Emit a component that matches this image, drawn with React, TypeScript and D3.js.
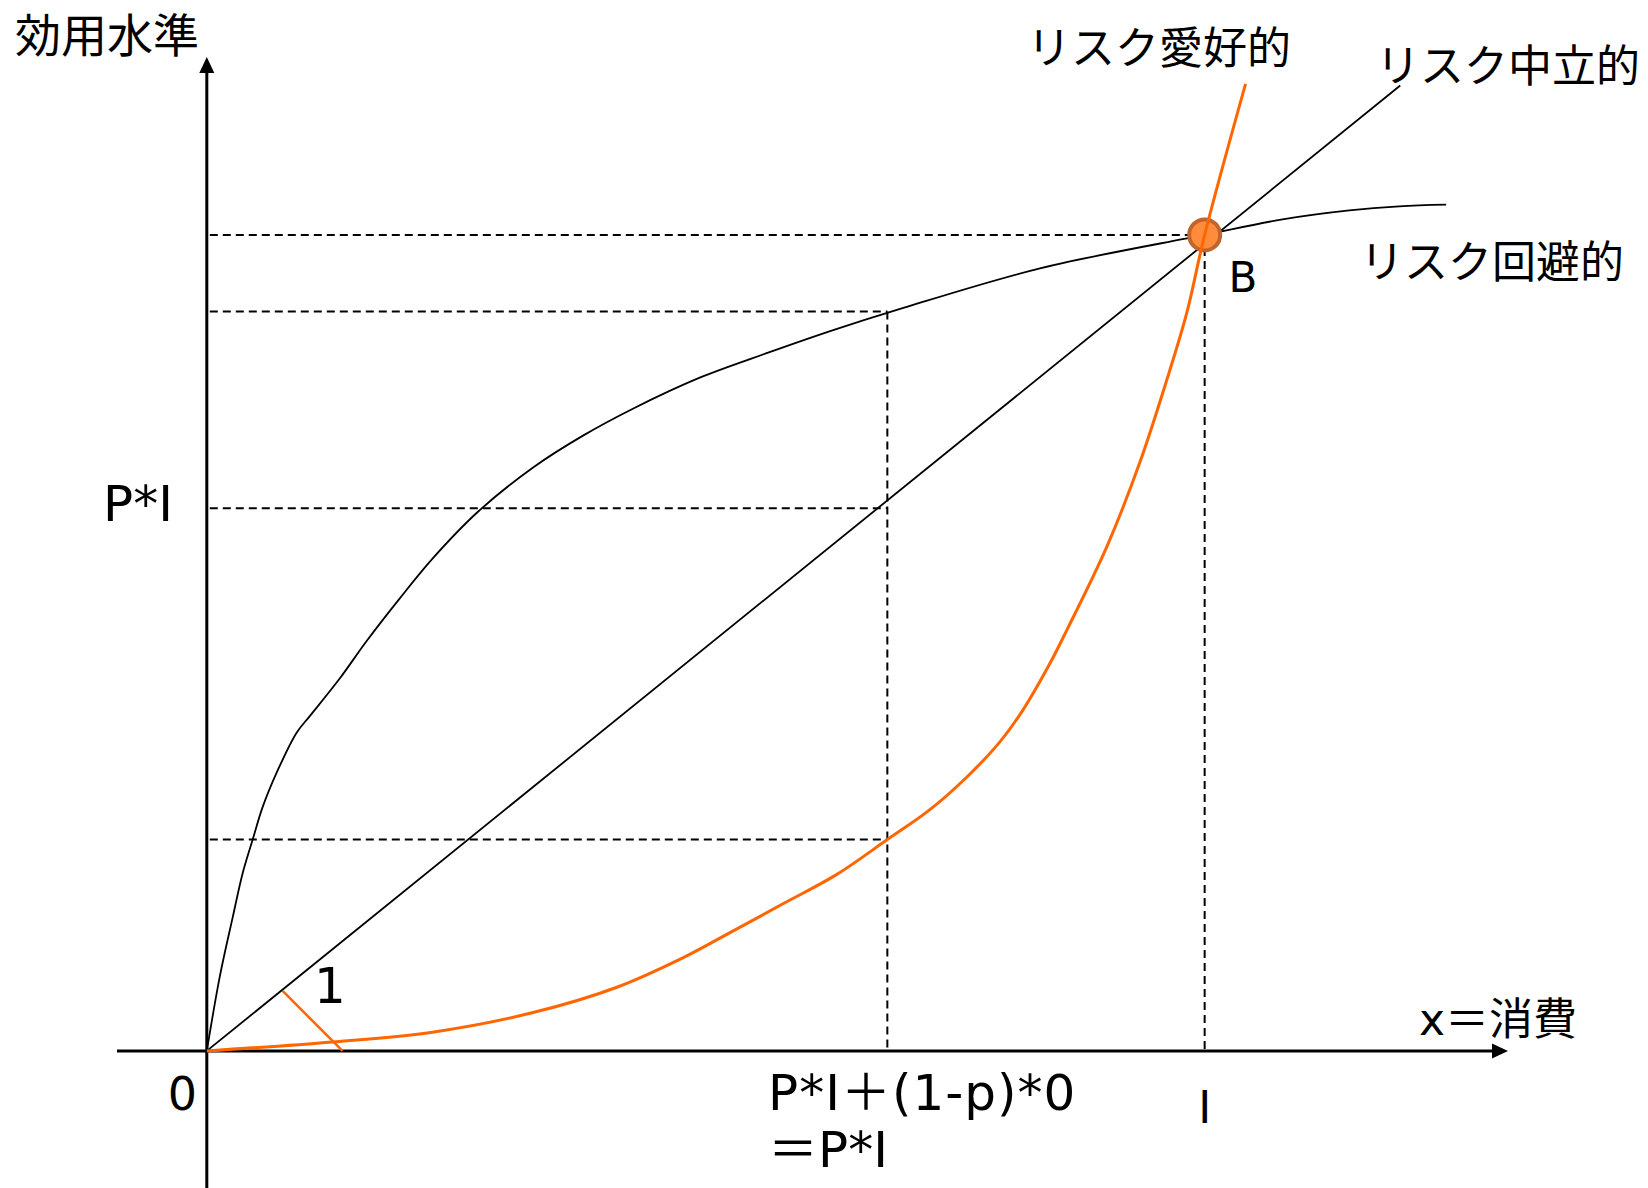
import * as d3 from 'd3';
import { useEffect, useRef } from 'react';

// utility curves in data units (x: 0..I=100, y: 0..U(B)=100)
const averseCurve: [number, number][] = [
	[0, 0], [1.3, 9.1], [2.6, 16.4], [3.6, 21.8], [4.6, 25.9], [5.6, 29.9], [7.0, 34.1],
	[9.0, 39.0], [10.3, 41.0], [13.3, 45.6], [16.0, 50.2], [19.3, 55.4], [22.6, 60.3],
	[27.2, 66.1], [32.7, 71.5], [37.7, 75.4], [42.7, 78.7], [49.4, 82.5], [56.1, 85.5],
	[62.7, 88.3], [69.4, 90.9], [83.5, 95.9], [100, 100], [107.8, 101.9], [114.5, 103.0],
	[119.5, 103.5], [124.2, 103.7],
];
const lovingCurve: [number, number][] = [
	[0, 0], [12.6, 1.1], [22.6, 2.3], [32.7, 4.7], [41.1, 7.8], [47.7, 11.4], [51.7, 14.0],
	[57.7, 18.0], [63.1, 21.6], [68.2, 25.9], [72.4, 29.5], [76.2, 33.6], [79.5, 37.9],
	[81.8, 41.8], [84.5, 47.5], [86.2, 51.6], [90.2, 61.8], [93.5, 72.1], [96.2, 82.2],
	[98.2, 90.4], [100, 100], [104.1, 118.5],
];
const neutralLine: [number, number][] = [[0, 0], [119.6, 118.3]];
const slopeMark: [number, number][] = [[7.6, 7.35], [13.6, 0]];

// guide lines
const expectedX = 68.2; // P*I
const incomeX = 100; // I
const guideLevels = [100, 90.6, 66.5, 25.9];
const guideEnds = [incomeX, expectedX, expectedX, expectedX];
const pointB: [number, number] = [100, 100];

const W = 1648;
const H = 1188;
const ORANGE = '#ff6600';
const JP = '"Noto Sans CJK JP", sans-serif';
const LAT = '"DejaVu Sans", "Noto Sans CJK JP", sans-serif';

const App = () => {
	const svgRef = useRef<SVGSVGElement>(null);

	useEffect(() => {
		document.body.style.margin = '0';
		const x = d3.scaleLinear().domain([-9, 130.4]).range([117, 1508]);
		const y = d3.scaleLinear().domain([-16.8, 121.8]).range([H, 57]);

		const svg = d3.select(svgRef.current);
		svg.selectAll('*').remove();

		const line = d3.line<[number, number]>().x((d) => x(d[0])).y((d) => y(d[1]));
		const smooth = d3.line<[number, number]>().curve(d3.curveCatmullRom.alpha(0.5)).x((d) => x(d[0])).y((d) => y(d[1]));

		// dashed guides
		const guides = svg.append('g').attr('stroke', '#000').attr('stroke-width', 2).attr('stroke-dasharray', '8,5').attr('fill', 'none');
		guideLevels.forEach((lv, i) => {
			guides.append('line').attr('x1', x(0.3)).attr('x2', x(guideEnds[i])).attr('y1', y(lv)).attr('y2', y(lv));
		});
		guides.append('line').attr('x1', x(expectedX)).attr('x2', x(expectedX)).attr('y1', y(guideLevels[1])).attr('y2', y(0));
		guides.append('line').attr('x1', x(incomeX)).attr('x2', x(incomeX)).attr('y1', y(guideLevels[0])).attr('y2', y(0));

		// axes with arrowheads
		svg.append('line').attr('x1', x(-9)).attr('x2', x(130.4) - 10).attr('y1', y(0)).attr('y2', y(0)).attr('stroke', '#000').attr('stroke-width', 3);
		svg.append('line').attr('x1', x(0)).attr('x2', x(0)).attr('y1', H).attr('y2', y(121.8) + 10).attr('stroke', '#000').attr('stroke-width', 3);
		const tx = x(130.4);
		const ty = y(121.8);
		svg.append('path').attr('d', `M${tx},${y(0)}L${tx - 16},${y(0) - 7.5}L${tx - 16},${y(0) + 7.5}Z`).attr('fill', '#000');
		svg.append('path').attr('d', `M${x(0)},${ty}L${x(0) - 7.5},${ty + 16}L${x(0) + 7.5},${ty + 16}Z`).attr('fill', '#000');

		// black curves
		svg.append('path').attr('d', line(neutralLine)).attr('fill', 'none').attr('stroke', '#000').attr('stroke-width', 1.8);
		svg.append('path').attr('d', smooth(averseCurve)).attr('fill', 'none').attr('stroke', '#000').attr('stroke-width', 1.8);

		// point B
		svg.append('circle').attr('cx', x(pointB[0])).attr('cy', y(pointB[1])).attr('r', 15.5)
			.attr('fill', '#ff8b3d').attr('stroke', '#c0652c').attr('stroke-width', 4);

		// orange curve + slope mark
		svg.append('path').attr('d', smooth(lovingCurve)).attr('fill', 'none').attr('stroke', ORANGE).attr('stroke-width', 3);
		svg.append('path').attr('d', line(slopeMark)).attr('fill', 'none').attr('stroke', ORANGE).attr('stroke-width', 2.5);

		// labels
		const text = (s: string, px: number, py: number, size: number, font: string, anchor = 'start') =>
			svg.append('text').attr('x', px).attr('y', py).attr('font-size', size).attr('font-family', font)
				.attr('text-anchor', anchor).attr('fill', '#000').text(s);

		text('効用水準', 15, 52, 46, JP);
		text('リスク愛好的', 1027, 64, 44, JP);
		text('リスク中立的', 1376, 82, 44, JP);
		text('リスク回避的', 1360, 278, 44, JP);
		text('x＝消費', 1419, 1035, 44, LAT);
		text('B', 1243, 292, 42, LAT, 'middle');
		text('P*I', 103, y(guideLevels[2]) + 13, 50, LAT);
		text('0', 182.5, 1110, 46, LAT, 'middle');
		text('1', 330, 1003, 50, LAT, 'middle');
		text('P*I＋(1-p)*0', 768, 1110, 50, LAT).attr('letter-spacing', 1);
		text('＝P*I', 768, 1167, 50, LAT);
		text('I', x(incomeX), 1123, 44, LAT, 'middle');
	}, []);

	return <svg ref={svgRef} width={W} height={H} viewBox={`0 0 ${W} ${H}`} style={{ display: 'block' }} />;
};

export default App;
